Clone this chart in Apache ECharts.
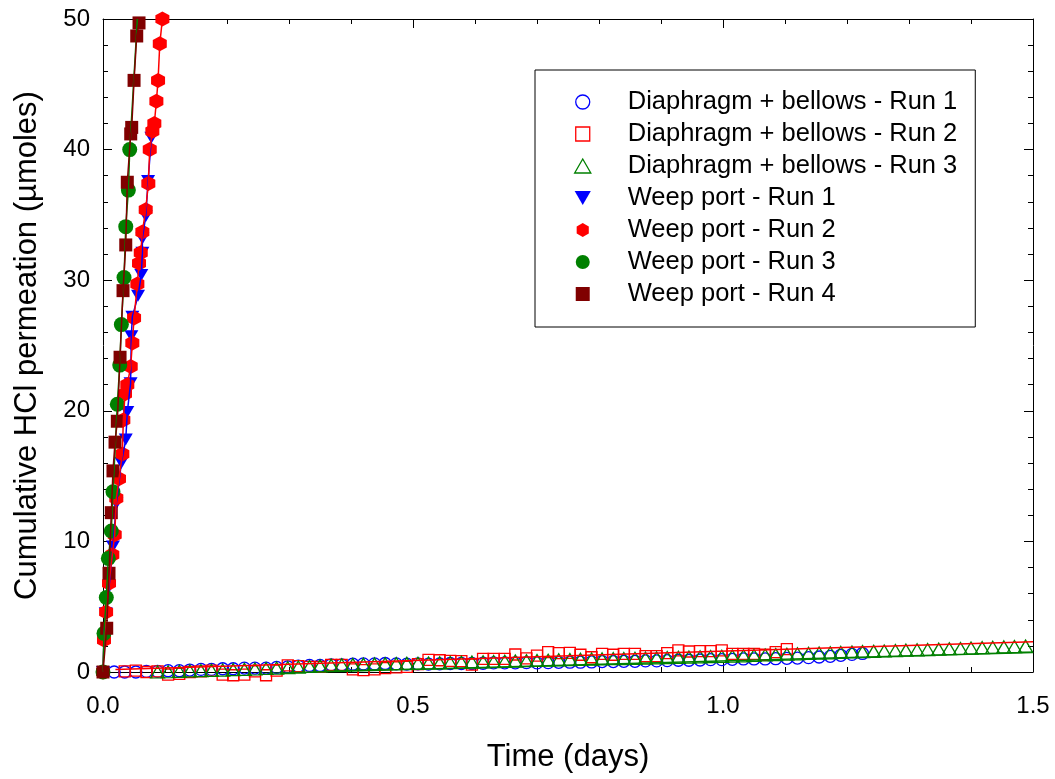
<!DOCTYPE html>
<html><head><meta charset="utf-8">
<script src="https://cdn.jsdelivr.net/npm/echarts@6/dist/echarts.min.js"></script>
<style>html,body{margin:0;padding:0;background:#fff}#c{width:1055px;height:779px}</style>
</head><body><div id="c"></div>
<script>
// ---- tick / axis data ----
const xTicks = [0.0, 0.5, 1.0, 1.5];
const yTicks = [0, 10, 20, 30, 40, 50];

// ---- Diaphragm + bellows runs (shared sampling times, days) ----
const slowTimes = [0.000,0.018,0.035,0.053,0.070,0.088,0.105,0.123,0.140,0.158,
  0.175,0.193,0.210,0.228,0.245,0.263,0.280,0.298,0.315,0.333,
  0.350,0.368,0.385,0.403,0.420,0.438,0.455,0.473,0.490,0.508,
  0.525,0.543,0.560,0.578,0.595,0.613,0.630,0.648,0.665,0.683,
  0.700,0.718,0.735,0.753,0.770,0.788,0.805,0.823,0.840,0.858,
  0.875,0.893,0.910,0.928,0.945,0.963,0.980,0.998,1.015,1.033,
  1.050,1.068,1.085,1.103,1.120,1.138,1.155,1.173,1.190,1.208,
  1.225,1.243,1.260,1.278,1.295,1.313,1.330,1.348,1.365,1.383,
  1.400,1.418,1.435,1.453,1.470,1.488];
const db1Y = [0.0,0.0,0.0,0.0,0.05,0.05,0.1,0.1,0.15,0.2,
  0.2,0.25,0.25,0.3,0.3,0.3,0.35,0.4,0.45,0.5,
  0.5,0.55,0.55,0.6,0.62,0.62,0.65,0.62,0.6,0.62,
  0.6,0.62,0.65,0.65,0.65,0.67,0.7,0.7,0.7,0.72,
  0.7,0.72,0.74,0.75,0.75,0.77,0.8,0.8,0.82,0.82,
  0.85,0.85,0.87,0.9,0.9,0.92,0.95,0.95,0.97,1.0,
  1.0,1.0,1.02,1.05,1.07,1.1,1.15,1.2,1.28,1.35,
  1.42];
const db2Y = [null,null,0.05,0.1,0.0,0.05,-0.2,-0.15,0.0,0.05,
  0.1,-0.2,-0.25,-0.2,0.05,-0.25,0.1,0.5,0.45,0.4,
  0.4,0.55,0.55,0.2,0.15,0.2,0.3,0.35,0.4,0.6,
  0.93,0.9,0.85,0.84,0.57,1.0,1.0,1.0,1.34,1.05,
  1.26,1.52,1.45,1.47,1.32,1.13,1.39,1.32,1.39,1.39,
  1.21,1.21,1.44,1.65,1.57,1.6,1.6,1.65,1.39,1.39,
  1.39,1.32,1.52,1.75];
const db3Y = [null,null,null,null,null,0.0,0.02,0.05,0.08,0.1,
  0.12,0.15,0.18,0.2,0.23,0.27,0.3,0.33,0.38,0.42,
  0.47,0.52,0.55,0.58,0.6,0.62,0.63,0.65,0.66,0.67,
  0.69,0.7,0.72,0.74,0.76,0.78,0.8,0.82,0.84,0.86,
  0.88,0.9,0.93,0.95,0.97,0.99,1.0,1.02,1.03,1.05,
  1.06,1.08,1.1,1.12,1.14,1.16,1.18,1.2,1.22,1.24,
  1.27,1.3,1.33,1.36,1.39,1.42,1.45,1.47,1.5,1.53,
  1.56,1.58,1.61,1.64,1.67,1.7,1.72,1.75,1.78,1.8,
  1.83,1.86,1.89,1.92,1.95,1.98];
// straight trend lines drawn through runs 2 and 3
const db2FitX = [0.02, 1.5], db2FitY = [0.2, 2.32];
const db3FitX = [0.074, 1.5], db3FitY = [-0.35, 1.5];

// ---- Weep port runs ----
const wp1X = [0.000,0.0016,0.0044,0.0097,0.0161,0.0215,0.0296,0.0367,0.0392,0.0445,0.0457,0.0473,0.0565,0.0618,0.0635,0.0635,0.0690,0.0727,0.0780];
const wp1Y = [0.0,2.7,4.5,6.5,9.6,12.9,16.0,17.8,19.9,22.1,25.7,27.2,28.8,30.4,32.1,33.2,34.9,37.6,40.9];
const wp2X = [0.000,0.0016,0.0050,0.0097,0.0150,0.0189,0.0215,0.0258,0.0312,0.0328,0.0355,0.0392,0.0447,0.0473,0.0501,0.0554,0.0581,0.0609,0.0635,0.0689,0.0731,0.0754,0.0796,0.0828,0.0861,0.0888,0.0916,0.0958];
const wp2Y = [0.0,2.45,4.6,6.8,8.97,10.5,13.3,14.8,16.7,19.3,21.3,22.0,23.4,25.2,27.1,29.7,31.3,32.1,33.7,35.4,37.4,40.0,41.4,42.0,43.7,45.3,48.1,50.0];
const wp3X = [0.000,0.0016,0.0053,0.0086,0.0134,0.0161,0.0231,0.0270,0.0296,0.0339,0.0367,0.0409,0.0431];
const wp3Y = [0.0,2.96,5.7,8.7,10.8,13.8,20.5,23.5,26.6,30.2,34.1,36.9,40.0];
const wp3LineEndX = [0.0554], wp3LineEndY = [50.0];
const wp4X = [0.000,0.0060,0.0097,0.0134,0.0161,0.0194,0.0231,0.0275,0.0323,0.0367,0.0392,0.0447,0.0463,0.0501,0.0544,0.0581];
const wp4Y = [0.0,3.35,7.56,12.2,15.4,17.6,19.2,24.1,29.2,32.7,37.5,41.2,41.7,45.3,48.7,49.7];

const names = ['Diaphragm + bellows - Run 1','Diaphragm + bellows - Run 2','Diaphragm + bellows - Run 3',
  'Weep port - Run 1','Weep port - Run 2','Weep port - Run 3','Weep port - Run 4'];

// ---- helpers ----
function zip(xs, ys){ const out=[]; for(let i=0;i<xs.length;i++){ if(ys[i]!==null && ys[i]!==undefined) out.push([xs[i],ys[i]]);} return out; }
const FONT = '"Liberation Sans", Arial, sans-serif';
const BLUE='#0000ff', RED='#ff0000', GREEN='#008000', MAROON='#800000';
const HEX = 'path://M50,0 L93.3,25 L93.3,75 L50,100 L6.7,75 L6.7,25 Z';
const TRI_UP = 'path://M50,0 L100,86.6 L0,86.6 Z';
const TRI_DOWN = 'path://M0,0 L100,0 L50,86.6 Z';
const SQUARE = 'path://M0,0 L100,0 L100,100 L0,100 Z';
const CLEAR = 'rgba(0,0,0,0)';

function lineSeries(id, data, color){
  return {type:'line', name:id, data:data, showSymbol:false, symbol:'none', clip:true,
    lineStyle:{color:color, width:1.5}, itemStyle:{color:color}, silent:true, animation:false};
}
function scat(name, data, symbol, size, itemStyle){
  return {type:'scatter', name:name, data:data, symbol:symbol, symbolSize:size,
    itemStyle:Object.assign({opacity:1}, itemStyle), clip:false, animation:false};
}

const series = [
  scat(names[0], zip(slowTimes, db1Y), 'circle', 12, {color:CLEAR, borderColor:BLUE, borderWidth:1.3}),
  scat(names[1], zip(slowTimes, db2Y), SQUARE, 11, {color:CLEAR, borderColor:RED, borderWidth:1.3}),
  lineSeries('fit2', zip(db2FitX, db2FitY), RED),
  scat(names[2], zip(slowTimes, db3Y), TRI_UP, [14,12], {color:CLEAR, borderColor:GREEN, borderWidth:1.3}),
  lineSeries('fit3', zip(db3FitX, db3FitY), GREEN),
  lineSeries('wl1', zip(wp1X, wp1Y), BLUE),
  scat(names[3], zip(wp1X, wp1Y), TRI_DOWN, [14,12], {color:BLUE}),
  lineSeries('wl2', zip(wp2X, wp2Y), RED),
  scat(names[4], zip(wp2X, wp2Y), HEX, [14,15], {color:RED}),
  lineSeries('wl3', zip(wp3X.concat(wp3LineEndX), wp3Y.concat(wp3LineEndY)), GREEN),
  scat(names[5], zip(wp3X, wp3Y), 'circle', 15, {color:GREEN}),
  lineSeries('wl4', zip(wp4X, wp4Y), MAROON),
  scat(names[6], zip(wp4X, wp4Y), SQUARE, 13, {color:MAROON})
];

const legendIcons = ['circle', SQUARE, TRI_UP, TRI_DOWN, HEX, 'circle', SQUARE];
const legendStyles = [
  {color:CLEAR, borderColor:BLUE, borderWidth:1.3, opacity:1},
  {color:CLEAR, borderColor:RED, borderWidth:1.3, opacity:1},
  {color:CLEAR, borderColor:GREEN, borderWidth:1.3, opacity:1},
  {color:BLUE, borderWidth:0, opacity:1},
  {color:RED, borderWidth:0, opacity:1},
  {color:GREEN, borderWidth:0, opacity:1},
  {color:MAROON, borderWidth:0, opacity:1}
];

const axisCommon = {
  axisLine:{show:true, onZero:false, lineStyle:{color:'#000', width:1}},
  axisTick:{show:true, inside:true, length:9, lineStyle:{color:'#000', width:1}},
  minorTick:{show:true, splitNumber:5, length:5, lineStyle:{color:'#000', width:1}},
  splitLine:{show:false}, minorSplitLine:{show:false}
};

const chart = echarts.init(document.getElementById('c'), null, {renderer:'canvas'});
chart.setOption({
  backgroundColor:'#fff',
  animation:false,
  grid:{left:103, right:22, top:19, bottom:107, containLabel:false},
  legend:{
    orient:'vertical', left:535, top:70,
    padding:[19,18,20,39],
    borderColor:'#000', borderWidth:1, backgroundColor:'#fff',
    itemWidth:80, itemHeight:14, itemGap:6,
    symbolKeepAspect:true,
    textStyle:{fontSize:25.5, fontFamily:FONT, color:'#000', lineHeight:25},
    data: names.map((n,i)=>({name:n, icon:legendIcons[i], itemStyle:legendStyles[i]}))
  },
  xAxis:[
    Object.assign({type:'value', position:'bottom', min:xTicks[0], max:xTicks[xTicks.length-1], interval:0.5,
      axisLabel:{formatter:v=>v.toFixed(1), fontSize:24, fontFamily:FONT, color:'#000', margin:22},
      name:'Time (days)', nameLocation:'middle', nameGap:70,
      nameTextStyle:{fontSize:31, fontFamily:FONT, color:'#000'}}, axisCommon),
    Object.assign({type:'value', position:'top', min:xTicks[0], max:xTicks[xTicks.length-1], interval:0.5,
      axisLabel:{show:false}}, axisCommon)
  ],
  yAxis:[
    Object.assign({type:'value', position:'left', min:yTicks[0], max:yTicks[yTicks.length-1], interval:10,
      axisLabel:{fontSize:24, fontFamily:FONT, color:'#000', margin:13},
      name:'Cumulative HCl permeation (\u00b5moles)', nameLocation:'middle', nameGap:60,
      nameTextStyle:{fontSize:31, fontFamily:FONT, color:'#000'}}, axisCommon),
    Object.assign({type:'value', position:'right', min:yTicks[0], max:yTicks[yTicks.length-1], interval:10,
      axisLabel:{show:false}}, axisCommon)
  ],
  series: series
});
</script></body></html>
